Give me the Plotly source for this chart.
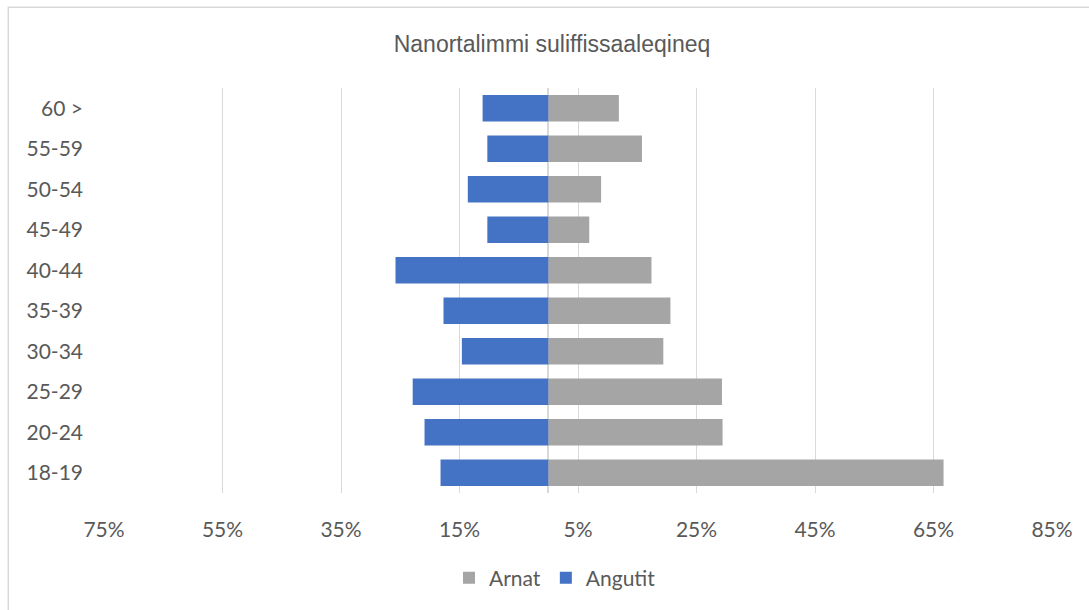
import plotly.graph_objects as go

# Age groups, listed top to bottom as drawn
age_groups = ["60 >", "55-59", "50-54", "45-49", "40-44",
              "35-39", "30-34", "25-29", "20-24", "18-19"]

# Share of each group, percent
arnat = [11.9, 15.8, 8.9, 6.9, 17.4, 20.6, 19.4, 29.3, 29.4, 66.7]
angutit = [11.1, 10.3, 13.6, 10.3, 25.8, 17.7, 14.6, 22.9, 20.9, 18.2]

# X axis ticks: men run to the left, labels show absolute values
tick_values = [-75, -55, -35, -15, 5, 25, 45, 65, 85]
tick_labels = [f"{abs(v)}%" for v in tick_values]

W, H = 1089, 610
L, R, T, B = 104, 37, 88, 117
PW, PH = W - L - R, H - T - B

TEXT = "#595959"
GRID = "#D9D9D9"
LABEL_FONT = "Lato"

fig = go.Figure()
fig.add_trace(go.Bar(
    y=age_groups, x=arnat, orientation="h", name="Arnat",
    marker=dict(color="#A5A5A5", line=dict(width=0)),
))
fig.add_trace(go.Bar(
    y=age_groups, x=[-v for v in angutit], orientation="h", name="Angutit",
    marker=dict(color="#4472C4", line=dict(width=0)),
))


def px_x(px):
    return (px - L) / PW


def px_y(py):
    return (H - B - py) / PH


fig.update_layout(
    width=W, height=H,
    margin=dict(l=L, r=R, t=T, b=B, pad=0),
    paper_bgcolor="white", plot_bgcolor="white",
    barmode="overlay", bargap=0.34,
    title=dict(
        text="Nanortalimmi suliffissaaleqineq",
        font=dict(family="Liberation Sans", size=23, color=TEXT),
        x=552 / W, xref="container", xanchor="center",
        y=1 - 44 / H, yref="container", yanchor="middle",
    ),
    xaxis=dict(
        range=[-75, 85], tickmode="array",
        tickvals=tick_values, ticktext=tick_labels,
        showgrid=True, gridcolor=GRID, gridwidth=1.3,
        zeroline=True, zerolinecolor=GRID, zerolinewidth=2,
        showline=False, ticks="", ticklabelstandoff=22,
        tickfont=dict(family=LABEL_FONT, size=21, color=TEXT),
        fixedrange=True,
    ),
    yaxis=dict(
        type="category", autorange="reversed",
        showgrid=False, zeroline=False, showline=False, ticks="",
        ticklabelstandoff=20,
        tickfont=dict(family=LABEL_FONT, size=21, color=TEXT),
        fixedrange=True,
    ),
    legend=dict(
        orientation="h", traceorder="normal",
        x=px_x(555), xanchor="center",
        y=px_y(578), yanchor="middle",
        font=dict(family=LABEL_FONT, size=21, color=TEXT),
        itemwidth=30, bgcolor="rgba(0,0,0,0)",
    ),
    showlegend=True,
    shapes=[dict(
        type="rect", xref="paper", yref="paper", layer="below",
        x0=px_x(8.3), x1=px_x(W + 5),
        y0=px_y(H + 5), y1=px_y(7.3),
        line=dict(color=GRID, width=1.5), fillcolor="rgba(0,0,0,0)",
    )],
)

fig.write_html("out.html")
